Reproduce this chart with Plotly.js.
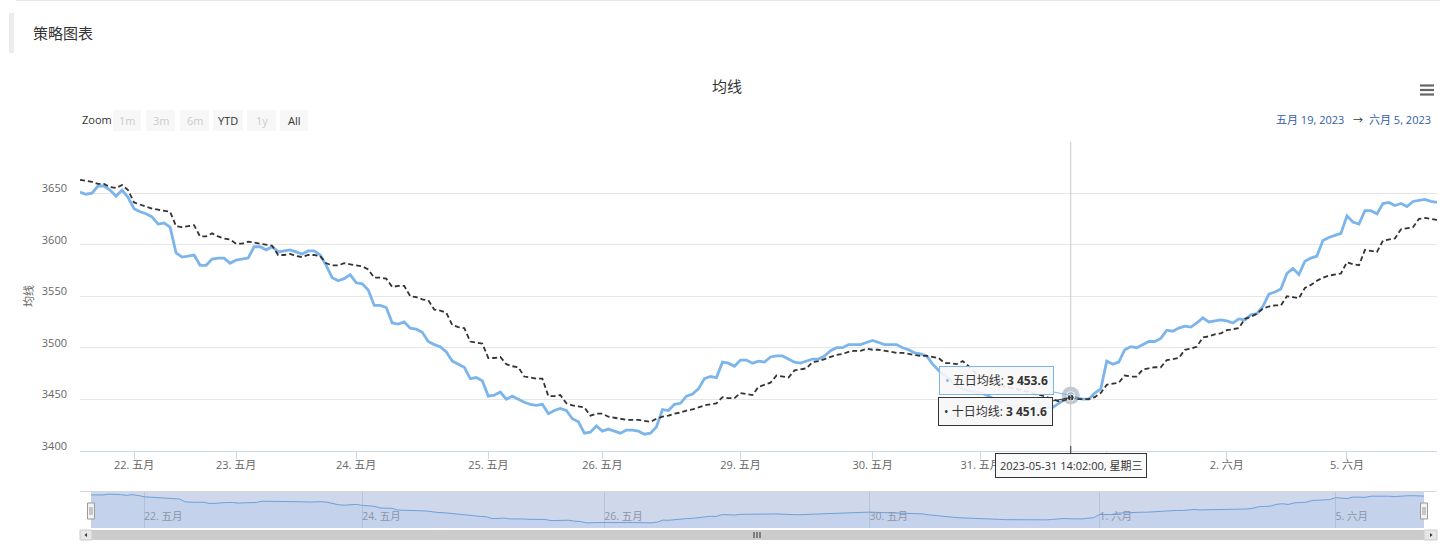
<!DOCTYPE html>
<html><head><meta charset="utf-8">
<script src="https://cdn.plot.ly/plotly-3.0.1.min.js"></script>
<style>html,body{margin:0;padding:0;background:#fff;} #chart{width:1454px;height:548px;}</style>
</head><body><div id="chart"></div>
<script>
// ---------- data ----------
const dayLabels = ['22. 五月','23. 五月','24. 五月','25. 五月','26. 五月','29. 五月','30. 五月','31. 五月','1. 六月','2. 六月','5. 六月'];
const dayStartIndex = [9,26,46,68,87,110,132,150,171,191,211];
const navLabels = ['22. 五月','24. 五月','26. 五月','30. 五月','1. 六月','5. 六月'];
const navStartIndex = [9,46,87,132,171,211];
const seriesNames = ['五日均线','十日均线'];
const ma5 = [
3651,3649,3650,3657,3657,3653,3647,3653,3646,3635,
3632,3630,3627,3620,3621,3617,3592,3588,3589,3590,
3580,3580,3586,3587,3587,3582,3585,3586,3587,3598,
3598,3595,3598,3593,3594,3595,3593,3591,3594,3594,
3590,3580,3568,3565,3567,3571,3563,3562,3556,3541,
3541,3539,3524,3523,3525,3519,3518,3515,3506,3503,
3501,3496,3487,3484,3481,3470,3471,3468,3453,3454,
3457,3450,3453,3450,3447,3445,3444,3445,3436,3439,
3441,3439,3431,3428,3417,3418,3424,3419,3421,3419,
3417,3420,3420,3419,3416,3417,3423,3440,3439,3445,
3446,3453,3455,3460,3470,3472,3471,3486,3485,3482,
3488,3488,3485,3487,3486,3491,3492,3492,3489,3486,
3485,3487,3489,3489,3492,3497,3500,3500,3503,3503,
3503,3505,3507,3505,3503,3503,3503,3500,3498,3495,
3494,3492,3484,3478,3473,3468,3463,3460,3458,3457,
3456,3454,3451,3449,3446,3444,3443,3442,3441,3440,
3440,3441,3442,3446,3450,3453.6,3451,3450,3450,3456,
3460,3487,3484,3486,3498,3501,3500,3503,3506,3506,
3509,3517,3516,3519,3521,3520,3524,3529,3525,3526,
3527,3526,3524,3528,3527,3532,3533,3540,3552,3554,
3557,3572,3577,3571,3584,3587,3589,3604,3607,3609,
3611,3628,3622,3620,3633,3633,3630,3640,3641,3638,
3640,3637,3642,3643,3644,3642,3641];
const ma10 = [
3663,3662,3661,3659,3659,3656,3655,3658,3653,3641,
3639,3637,3635,3634,3633,3632,3618,3617,3618,3619,
3608,3608,3611,3608,3606,3605,3601,3601,3603,3602,
3601,3600,3599,3590,3590,3591,3589,3588,3590,3590,
3589,3582,3580,3580,3582,3581,3580,3579,3576,3568,
3568,3567,3559,3560,3560,3550,3549,3547,3546,3537,
3536,3534,3522,3520,3519,3506,3505,3504,3490,3490,
3491,3484,3482,3481,3472,3471,3470,3470,3453,3453,
3454,3446,3444,3443,3442,3434,3436,3436,3433,3432,
3431,3430,3430,3430,3429,3428,3431,3433,3434,3436,
3437,3439,3440,3442,3444,3445,3446,3452,3451,3451,
3456,3455,3454,3462,3464,3466,3473,3472,3471,3478,
3479,3480,3486,3487,3489,3491,3493,3494,3496,3497,
3497,3499,3498,3498,3497,3496,3495,3495,3494,3493,
3492,3492,3491,3490,3485,3485,3484,3487,3482,3476,
3472,3469,3466,3464,3462,3461,3460,3458,3457,3455,
3454,3452,3450,3448,3449,3451.6,3450,3450,3450,3452,
3456,3464,3465,3466,3473,3472,3472,3479,3480,3481,
3481,3488,3489,3490,3498,3499,3501,3510,3511,3513,
3514,3517,3518,3519,3528,3530,3533,3538,3540,3541,
3541,3550,3549,3548,3558,3561,3565,3568,3570,3571,
3572,3583,3581,3580,3595,3594,3593,3604,3605,3606,
3615,3616,3617,3625,3626,3625,3624];
const yTicks = [3400,3450,3500,3550,3600,3650,3700];
const hoverIndex = 165;
const hoverTime = '2023-05-31 14:02:00, 星期三';
const rangeButtons = ['1m','3m','6m','YTD','1y','All'];
const rangeButtonEnabled = [false,false,false,true,false,true];
const rangeFrom = '五月 19, 2023';
const rangeTo = '六月 5, 2023';
const pageTitle = '策略图表';
const chartTitle = '均线';
const yTitle = '均线';

// ---------- helpers ----------
const W = 1454, H = 548;
const PX = x => x / W;
const PY = y => 1 - y / H;
const FONT = "'Open Sans', 'Noto Sans CJK SC', sans-serif";
const idx = ma5.map((_, k) => k);
const fmt = v => v.toFixed(1).replace(/\B(?=(\d{3})+(?!\d))/g, ' ');
const BLUE = '#7cb5ec', DARK = '#333333';

const traces = [
  {x: idx, y: ma5, name: seriesNames[0], mode: 'lines', line: {color: BLUE, width: 2.8}, xaxis: 'x', yaxis: 'y', hoverinfo: 'skip'},
  {x: idx, y: ma10, name: seriesNames[1], mode: 'lines', line: {color: DARK, width: 1.8, dash: '5px,3px'}, xaxis: 'x', yaxis: 'y', hoverinfo: 'skip'},
  {x: [idx[hoverIndex]], y: [ma5[hoverIndex]], mode: 'markers', marker: {size: 18, color: 'rgba(90,100,120,0.35)'}, xaxis: 'x', yaxis: 'y', hoverinfo: 'skip'},
  {x: [idx[hoverIndex]], y: [ma5[hoverIndex]], mode: 'markers', marker: {size: 8, color: BLUE, line: {color: '#fff', width: 1}}, xaxis: 'x', yaxis: 'y', hoverinfo: 'skip'},
  {x: [idx[hoverIndex]], y: [ma10[hoverIndex]], mode: 'markers', marker: {size: 7, color: DARK, line: {color: '#fff', width: 1}}, xaxis: 'x', yaxis: 'y', hoverinfo: 'skip'},
  {x: idx, y: ma5, mode: 'lines', fill: 'tozeroy', fillcolor: 'rgba(124,181,236,0.12)', line: {color: '#6f9fdb', width: 1}, xaxis: 'x2', yaxis: 'y2', hoverinfo: 'skip'}
];

const shapes = [];
const annotations = [];
// page header
shapes.push({type: 'line', xref: 'paper', yref: 'paper', x0: PX(16), x1: PX(1440), y0: PY(0.5), y1: PY(0.5), line: {color: '#e3e7ee', width: 1}});
shapes.push({type: 'rect', xref: 'paper', yref: 'paper', x0: PX(9), x1: PX(14), y0: PY(13), y1: PY(53), fillcolor: '#ececec', line: {width: 0}});
annotations.push({xref: 'paper', yref: 'paper', x: PX(31), y: PY(33), xanchor: 'left', yanchor: 'middle', showarrow: false, text: pageTitle, font: {family: FONT, size: 15, color: '#333'}});
// chart title
annotations.push({xref: 'paper', yref: 'paper', x: PX(727), y: PY(86), xanchor: 'center', yanchor: 'middle', showarrow: false, text: chartTitle, font: {family: FONT, size: 15, color: '#333'}});
// menu icon
[85.5, 90, 94.5].forEach(y => shapes.push({type: 'line', xref: 'paper', yref: 'paper', x0: PX(1420), x1: PX(1434), y0: PY(y), y1: PY(y), line: {color: '#666', width: 2.2}}));
// range selector
annotations.push({xref: 'paper', yref: 'paper', x: PX(80), y: PY(120), xanchor: 'left', yanchor: 'middle', showarrow: false, text: 'Zoom', font: {family: FONT, size: 11, color: '#333'}});
const btnLeft = [113, 146, 180, 213, 247, 280];
const btnW = [28, 29, 29, 30, 29, 28];
rangeButtons.forEach((b, k) => {
  shapes.push({type: 'rect', xref: 'paper', yref: 'paper', x0: PX(btnLeft[k]), x1: PX(btnLeft[k] + btnW[k]), y0: PY(110), y1: PY(131), fillcolor: '#f7f7f7', line: {width: 0}});
  annotations.push({xref: 'paper', yref: 'paper', x: PX(btnLeft[k] + btnW[k] / 2), y: PY(120.5), xanchor: 'center', yanchor: 'middle', showarrow: false, text: b, font: {family: FONT, size: 11, color: rangeButtonEnabled[k] ? '#333' : '#cccccc'}});
});
annotations.push({xref: 'paper', yref: 'paper', x: PX(1346), y: PY(120), xanchor: 'right', yanchor: 'middle', showarrow: false, text: rangeFrom, font: {family: FONT, size: 11, color: '#335cad'}});
annotations.push({xref: 'paper', yref: 'paper', x: PX(1358), y: PY(120), xanchor: 'center', yanchor: 'middle', showarrow: false, text: '→', font: {family: FONT, size: 10, color: '#333'}});
annotations.push({xref: 'paper', yref: 'paper', x: PX(1433), y: PY(120), xanchor: 'right', yanchor: 'middle', showarrow: false, text: rangeTo, font: {family: FONT, size: 11, color: '#335cad'}});
// y title
annotations.push({xref: 'paper', yref: 'paper', x: PX(28), y: PY(296), xanchor: 'center', yanchor: 'middle', showarrow: false, textangle: -90, text: yTitle, font: {family: FONT, size: 11, color: '#666'}});
// crosshair
shapes.push({type: 'line', xref: 'x', yref: 'paper', x0: idx[hoverIndex], x1: idx[hoverIndex], y0: PY(450.7), y1: PY(141.7), line: {color: '#c8c8c8', width: 1}});
// tooltips
annotations.push({xref: 'x', yref: 'y', x: idx[hoverIndex], y: ma5[hoverIndex], ax: -74, ay: -15, showarrow: true, arrowhead: 0, arrowwidth: 1, arrowcolor: BLUE,
  text: '<span style="color:' + BLUE + '">•</span> ' + seriesNames[0] + ': <b>' + fmt(ma5[hoverIndex]) + '</b>',
  bgcolor: 'rgba(247,247,247,0.9)', bordercolor: BLUE, borderwidth: 1, borderpad: 5, font: {family: FONT, size: 12, color: '#333'}});
annotations.push({xref: 'x', yref: 'y', x: idx[hoverIndex], y: ma10[hoverIndex], ax: -75, ay: 14, showarrow: true, arrowhead: 0, arrowwidth: 1, arrowcolor: DARK,
  text: '<span style="color:' + DARK + '">•</span> ' + seriesNames[1] + ': <b>' + fmt(ma10[hoverIndex]) + '</b>',
  bgcolor: 'rgba(247,247,247,0.95)', bordercolor: DARK, borderwidth: 1, borderpad: 5, font: {family: FONT, size: 12, color: '#333'}});
annotations.push({xref: 'x', yref: 'paper', x: idx[hoverIndex], y: PY(446), ax: 0, ay: 19, showarrow: true, arrowhead: 0, arrowwidth: 1, arrowcolor: DARK,
  text: hoverTime, bgcolor: 'rgba(250,250,250,0.97)', bordercolor: DARK, borderwidth: 1, borderpad: 4, font: {family: FONT, size: 11, color: '#333'}});
// navigator
shapes.push({type: 'rect', xref: 'paper', yref: 'paper', layer: 'below', x0: PX(91), x1: PX(1424), y0: PY(528), y1: PY(492), fillcolor: '#cfd8eb', line: {width: 0}});
shapes.push({type: 'line', xref: 'paper', yref: 'paper', x0: PX(80), x1: PX(1437), y0: PY(491.5), y1: PY(491.5), line: {color: '#d8d8d8', width: 1}});
[91, 1424].forEach(hx => {
  shapes.push({type: 'rect', xref: 'paper', yref: 'paper', x0: PX(hx - 3.5), x1: PX(hx + 3.5), y0: PY(503), y1: PY(519), fillcolor: '#f2f2f2', line: {color: '#999', width: 1}});
  shapes.push({type: 'line', xref: 'paper', yref: 'paper', x0: PX(hx - 1), x1: PX(hx - 1), y0: PY(507), y1: PY(515), line: {color: '#999', width: 1}});
  shapes.push({type: 'line', xref: 'paper', yref: 'paper', x0: PX(hx + 1), x1: PX(hx + 1), y0: PY(507), y1: PY(515), line: {color: '#999', width: 1}});
});
// scrollbar
shapes.push({type: 'rect', xref: 'paper', yref: 'paper', x0: PX(80), x1: PX(1437), y0: PY(540), y1: PY(530), fillcolor: '#f2f2f2', line: {width: 0}});
shapes.push({type: 'rect', xref: 'paper', yref: 'paper', x0: PX(92), x1: PX(1424), y0: PY(540), y1: PY(530), fillcolor: '#cccccc', line: {width: 0}});
shapes.push({type: 'rect', xref: 'paper', yref: 'paper', x0: PX(80), x1: PX(92), y0: PY(540), y1: PY(530), fillcolor: '#e6e6e6', line: {color: '#cccccc', width: 1}});
shapes.push({type: 'rect', xref: 'paper', yref: 'paper', x0: PX(1424), x1: PX(1437), y0: PY(540), y1: PY(530), fillcolor: '#e6e6e6', line: {color: '#cccccc', width: 1}});
shapes.push({type: 'path', xref: 'paper', yref: 'paper', path: `M ${PX(84.5)} ${PY(535)} L ${PX(87)} ${PY(533)} L ${PX(87)} ${PY(537)} Z`, fillcolor: '#333', line: {width: 0}});
shapes.push({type: 'path', xref: 'paper', yref: 'paper', path: `M ${PX(1432.5)} ${PY(535)} L ${PX(1430)} ${PY(533)} L ${PX(1430)} ${PY(537)} Z`, fillcolor: '#333', line: {width: 0}});
[754, 757, 760].forEach(rx => shapes.push({type: 'line', xref: 'paper', yref: 'paper', x0: PX(rx), x1: PX(rx), y0: PY(532), y1: PY(538), line: {color: '#333', width: 1}}));

const layout = {
  width: W, height: H, autosize: false,
  margin: {l: 0, r: 0, t: 0, b: 0, pad: 0},
  paper_bgcolor: '#ffffff', plot_bgcolor: 'rgba(0,0,0,0)',
  showlegend: false,
  font: {family: FONT, color: '#666'},
  xaxis: {domain: [PX(80), PX(1437)], range: [0, idx.length - 1], anchor: 'y',
    tickmode: 'array', tickvals: dayStartIndex, ticktext: dayLabels,
    showline: true, linecolor: '#ccd6eb', linewidth: 1, ticks: 'outside', ticklen: 7, tickcolor: '#ccd6eb',
    ticklabelstandoff: -3,
    tickfont: {family: FONT, size: 11, color: '#666'}, showgrid: false, zeroline: false, fixedrange: true},
  yaxis: {domain: [PY(450.7), PY(141.7)], range: [3400, 3700], anchor: 'x',
    tickmode: 'array', tickvals: yTicks, ticktext: yTicks.map(v => v === 3700 ? '' : String(v)),
    gridcolor: '#e6e6e6', gridwidth: 1, showline: false, zeroline: false, ticks: '',
    ticklabelstandoff: 12, ticklabelshift: -5,
    tickfont: {family: FONT, size: 11, color: '#666'}, fixedrange: true},
  xaxis2: {domain: [PX(91), PX(1424)], range: [0, idx.length - 1], anchor: 'y2',
    tickmode: 'array', tickvals: navStartIndex, ticktext: navLabels, ticklabelposition: 'inside right', ticks: '',
    showgrid: true, gridcolor: '#b8c3db', showline: false, zeroline: false,
    tickfont: {family: FONT, size: 10.5, color: '#8c95a8'}, fixedrange: true},
  yaxis2: {domain: [PY(528), PY(492)], range: [3374, 3675], anchor: 'x2', visible: false, fixedrange: true},
  shapes: shapes,
  annotations: annotations
};
Plotly.newPlot('chart', traces, layout, {displayModeBar: false, staticPlot: true});
</script>
</body></html>
